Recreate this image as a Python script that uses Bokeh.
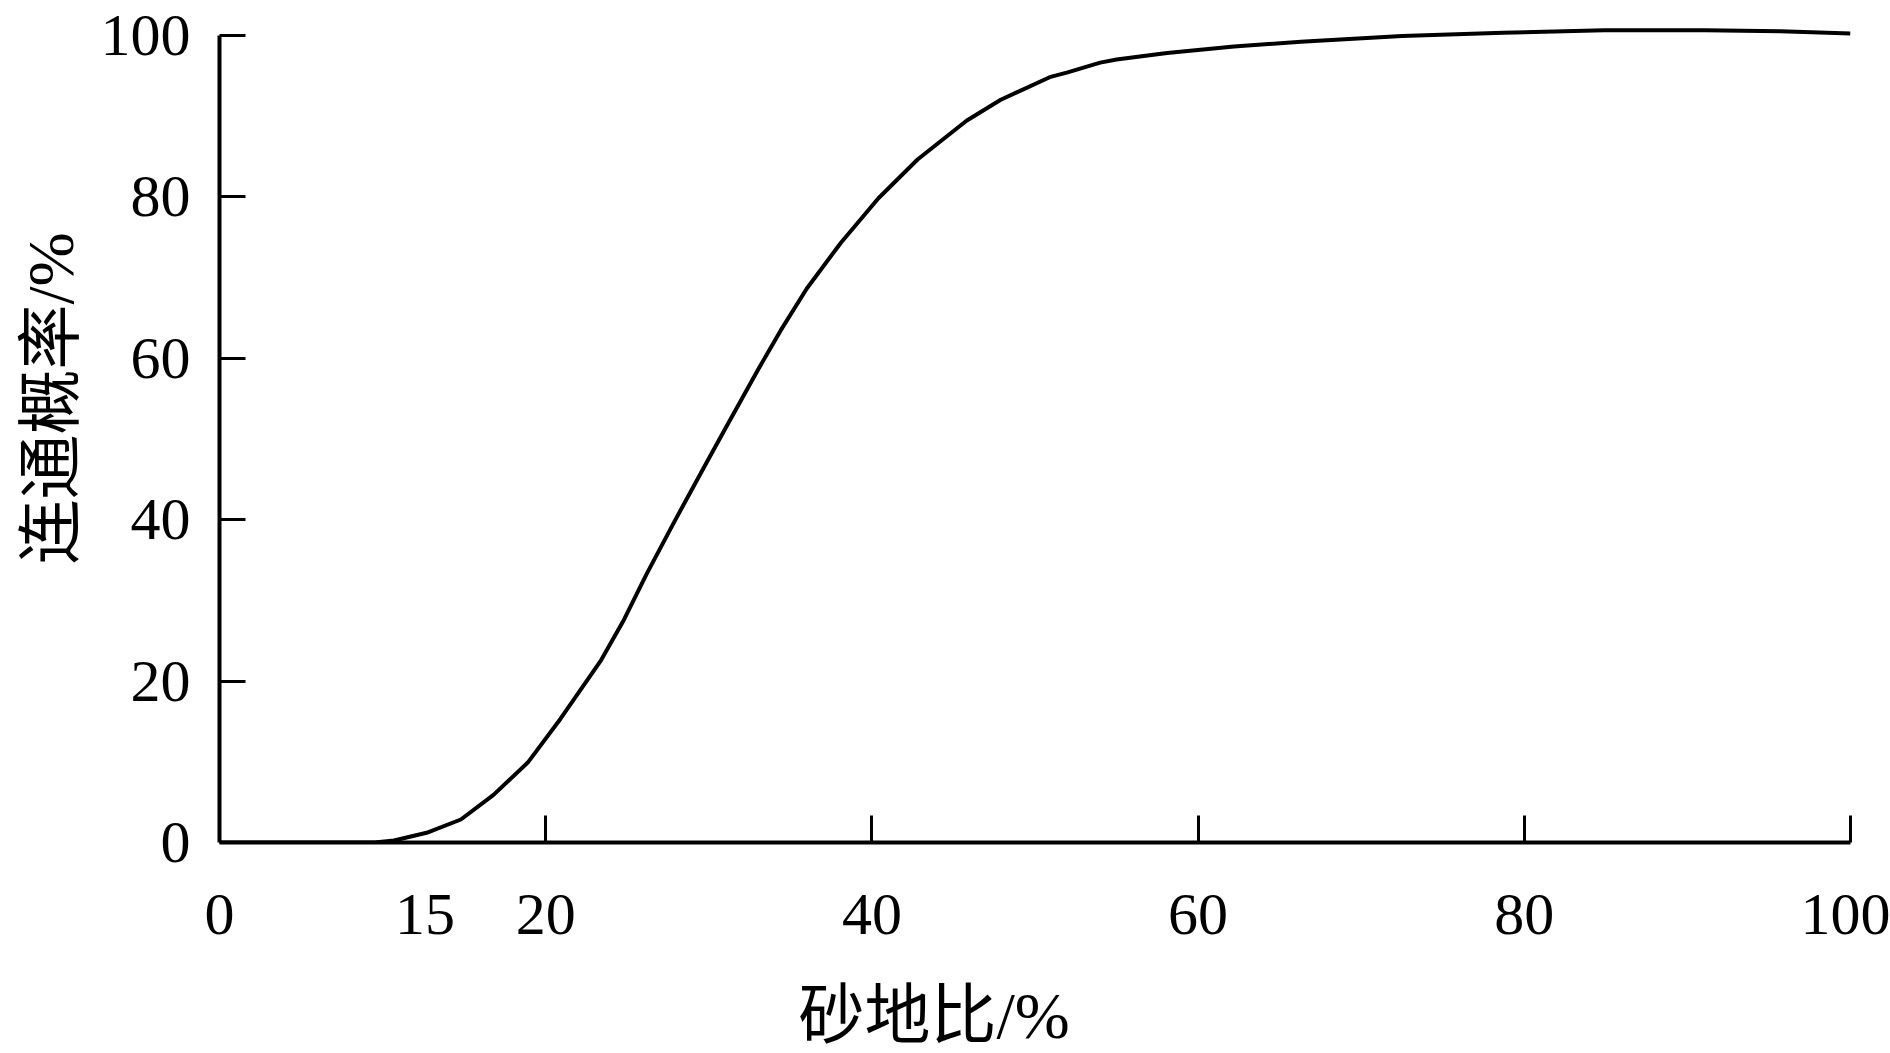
from bokeh.plotting import figure
from bokeh.models import Range1d, LinearAxis, FixedTicker, Title
from bokeh.embed import file_html
from bokeh.resources import INLINE

# ---- data ----
sand_ratio = [0, 5, 9.5, 10.7, 12.7, 14.8, 16.8, 18.9, 20.9, 23.4, 24.8, 26.2,
              27.85, 29.9, 31.1, 33.0, 34.4, 36.0, 38.1, 40.4, 42.8, 45.8, 47.9,
              50.9, 52.0, 54.0, 55.0, 58.1, 62.2, 66.3, 72.5, 78.7, 84.9, 91.1,
              95.7, 100]
conn_prob = [0, 0, 0, 0.25, 1.2, 2.85, 5.9, 9.9, 15.3, 22.6, 27.6, 33.3,
             39.6, 47.2, 51.6, 58.5, 63.4, 68.6, 74.3, 79.8, 84.6, 89.4, 92.0,
             94.8, 95.4, 96.6, 97.0, 97.8, 98.6, 99.2, 99.9, 100.3, 100.6, 100.6,
             100.5, 100.2]

y_ticks = [0, 20, 40, 60, 80, 100]
y_tick_labels = ["0", "20", "40", "60", "80", "100"]
x_ticks = [20, 40, 60, 80, 100]
x_label_pos = [0, 12.6, 20, 40, 60, 80, 100]
x_label_text = ["0", "15", "20", "40", "60", "80", "100"]
x_title = "砂地比/%"
y_title = "连通概率/%"

SERIF = "'Liberation Serif', 'Noto Sans CJK SC'"

p = figure(width=1890, height=1053, output_backend="svg", toolbar_location=None,
           x_range=Range1d(0, 100), y_range=Range1d(0, 104.3),
           min_border_left=219, min_border_right=40, min_border_top=0,
           min_border_bottom=211)
p.outline_line_color = None
p.xgrid.visible = False
p.ygrid.visible = False
p.background_fill_color = "white"
p.border_fill_color = "white"

p.line(sand_ratio, conn_prob, line_color="black", line_width=4, line_join="round")

# main x axis: line and inward ticks, no labels
xa = p.xaxis[0]
xa.ticker = FixedTicker(ticks=x_ticks, minor_ticks=[])
xa.bounds = (0, 100)
xa.axis_line_width = 4
xa.axis_line_color = "black"
xa.major_tick_in = 27
xa.major_tick_out = 0
xa.major_tick_line_width = 3
xa.minor_tick_in = 0
xa.minor_tick_out = 0
xa.major_label_overrides = {t: "" for t in x_ticks}
xa.major_label_text_font_size = "0px"
xa.major_label_standoff = 0

# label-only x axis (blank axis label only adds spacing before the title)
xl = LinearAxis(ticker=FixedTicker(ticks=x_label_pos, minor_ticks=[]),
                major_label_overrides=dict(zip(x_label_pos, x_label_text)),
                axis_line_color=None, major_tick_line_color=None,
                minor_tick_line_color=None, major_tick_in=0, major_tick_out=0,
                minor_tick_in=0, minor_tick_out=0, major_label_standoff=52,
                major_label_text_font=SERIF, major_label_text_font_size="60px",
                major_label_text_color="black",
                axis_label=" ", axis_label_standoff=35,
                axis_label_text_font_size="2px")
p.add_layout(xl, "below")

# y axis
ya = p.yaxis[0]
ya.ticker = FixedTicker(ticks=y_ticks, minor_ticks=[])
ya.bounds = (0, 100)
ya.axis_line_width = 4
ya.axis_line_color = "black"
ya.major_tick_in = 26
ya.major_tick_out = 0
ya.major_tick_line_width = 3
ya.minor_tick_in = 0
ya.minor_tick_out = 0
ya.major_label_overrides = dict(zip(y_ticks, y_tick_labels))
ya.major_label_standoff = 29
ya.major_label_text_font = SERIF
ya.major_label_text_font_size = "60px"
ya.major_label_text_color = "black"

# axis titles
xt = Title(text=x_title, align="left", offset=579, standoff=0, text_font=SERIF,
           text_font_size="66px", text_font_style="normal", text_color="black")
p.add_layout(xt, "below")
yt = Title(text=y_title, align="left", offset=278, standoff=22, text_font=SERIF,
           text_font_size="65px", text_font_style="normal", text_color="black")
p.add_layout(yt, "left")

open("out.html", "w").write(file_html(p, INLINE))
